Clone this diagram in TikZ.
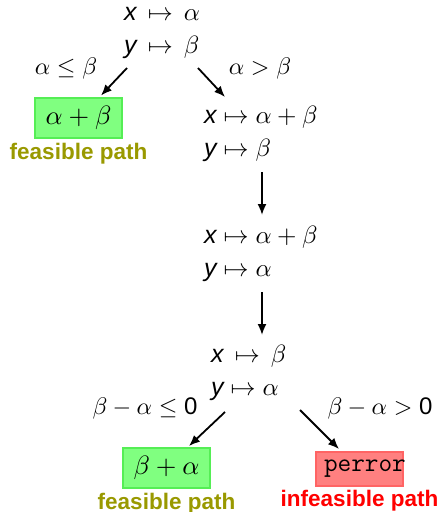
\RequirePackage{fix-cm}
\documentclass[tikz,border=0pt]{standalone}
\usepackage{amsmath,amssymb}
\usepackage{fontspec}
\setsansfont{Liberation Sans}
% Griegas y símbolos con el diseño de 10pt a cualquier tamaño.
\DeclareFontShape{OML}{cmm}{m}{it}{<->cmmi10}{}
\DeclareFontShape{OMS}{cmsy}{m}{n}{<->cmsy10}{}
\DeclareFontShape{OT1}{cmr}{m}{n}{<->cmr10}{}
\usepackage{tikz}
\usetikzlibrary{arrows.meta,positioning,calc}
\usepackage{xcolor}
\definecolor{LeafGreen}{HTML}{80FF80}
\definecolor{LeafGreenLine}{HTML}{55EE55}
\definecolor{LeafRed}{HTML}{FF8080}
\definecolor{LeafRedLine}{HTML}{FF6464}
\definecolor{TagOlive}{HTML}{999900}
\definecolor{TagRed}{HTML}{FF0000}
\newcommand{\vx}{\textsf{\itshape x}}
\newcommand{\vy}{\textsf{\itshape y}}

\begin{document}
\begin{tikzpicture}[>={Latex[length=11pt,width=9pt]},x=1pt,y=-1pt,
  every node/.style={font=\fontsize{24}{30}\selectfont,inner sep=0pt},
  state/.style={anchor=west,align=left,font=\fontsize{25}{33}\selectfont},
  leafbox/.style={draw,line width=2pt,minimum width=87pt,font=\fontsize{26.5}{30}\selectfont},
  okleaf/.style={leafbox,fill=LeafGreen,draw=LeafGreenLine,minimum height=40pt},
  badleaf/.style={leafbox,fill=LeafRed,draw=LeafRedLine,minimum height=34pt},
  tag/.style={font=\fontsize{22.5}{26}\selectfont\sffamily\bfseries},
  arr/.style={->,line width=1.8pt}]
  \useasboundingbox (0,0) rectangle (440,512);

  % Estados simbólicos de la ejecución, de arriba abajo.
  \node[state] (s0) at (124,33) {$\vx\,\mapsto\,\alpha$\\$\vy\,\mapsto\,\beta$};
  \node[state] (s1) at (204,134) {$\vx\mapsto\alpha+\beta$\\$\vy\mapsto\beta$};
  \node[state] (s2) at (204,254) {$\vx\mapsto\alpha+\beta$\\$\vy\mapsto\alpha$};
  \node[state] (s3) at (211,373) {$\vx\,\mapsto\,\beta$\\$\vy\mapsto\alpha$};

  % Hojas del árbol: caminos factibles e infactible.
  \node[okleaf] (leaf1) at (78.5,117.5) {$\alpha+\beta$};
  \node[okleaf] (leaf2) at (166.5,468) {$\beta+\alpha$};
  \node[badleaf] (leaf3) at (359.5,469) {\hspace*{8pt}\makebox[79pt][l]{\texttt{perror}}};
  \node[tag,TagOlive,below=4pt of leaf1] (tag1) {feasible path};
  \node[tag,TagOlive,below=4pt of leaf2] (tag2) {feasible path};
  \node[tag,TagRed,below=3pt of leaf3] (tag3) {infeasible path};

  % Condiciones de las ramas.
  \node (c1) at (66,68) {$\alpha\leq\beta$};
  \node (c2) at (260,68) {$\alpha>\beta$};
  \node (c3) at (145,408) {$\beta-\alpha\leq\textsf{0}$};
  \node (c4) at (380,408) {$\beta-\alpha>\textsf{0}$};

  \draw[arr] ($(s0.west)+(3,35)$) -- ($(leaf1.north east)+(-22,-1)$);
  \draw[arr] ($(s0.west)+(74,35)$) -- ($(s1.west)+(21,-37)$);
  \draw[arr] ($(s1.west)+(58,38)$) -- ($(s2.west)+(58,-39)$);
  \draw[arr] ($(s2.west)+(58,38)$) -- ($(s3.west)+(51,-38)$);
  \draw[arr] ($(s3.west)+(14,39)$) -- ($(leaf2.north east)+(-22,-1)$);
  \draw[arr] ($(s3.west)+(89,37)$) -- ($(leaf3.north west)+(24,-2)$);
\end{tikzpicture}
\end{document}
